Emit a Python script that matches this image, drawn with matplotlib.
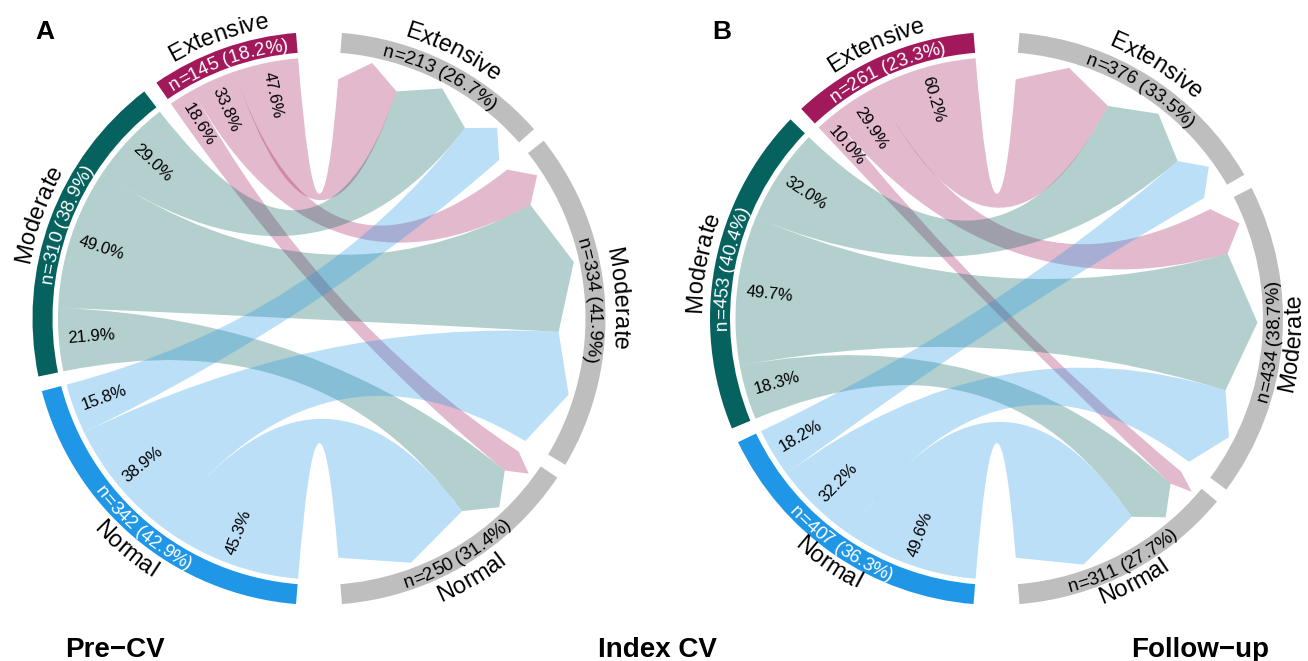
import numpy as np
import matplotlib
matplotlib.use("Agg")
import matplotlib.pyplot as plt
from matplotlib.patches import Wedge, PathPatch
from matplotlib.path import Path
from matplotlib import font_manager as fm
from matplotlib.ft2font import FT2Font

# ---------------------------------------------------------------- data
categories = ["Extensive", "Moderate", "Normal"]

# patient counts moving between states (rows: earlier state, cols: later state)
pre_to_index = [[69, 49, 27],
                [90, 152, 68],
                [54, 133, 155]]
index_to_follow = [[157, 78, 26],
                   [145, 225, 83],
                   [74, 131, 202]]

stage_titles = ["Pre\u2212CV", "Index CV", "Follow\u2212up"]
panel_tags = ["A", "B"]

state_colors = ["#A1195B", "#05625F", "#2097E6"]
later_color = "#BEBEBE"

# ---------------------------------------------------------------- layout
W, H, DPI = 1308, 661, 100
FONT = "Liberation Sans"
R_OUT = 286.5        # outer radius of the sector ring
RING_W = 20.0        # ring thickness
R_LINK = 261.0       # radius where ribbons start
R_HEAD = 240.0       # radius of arrow-head shoulders
R_PCT = 252.0        # start radius of percentage labels
BIG_GAP = 9.2        # gap (deg) between the two groups
SMALL_GAP = 3.0      # gap (deg) between sectors in a group
LINK_ALPHA = 0.3

plt.rcParams["font.family"] = [FONT, "DejaVu Sans"]

_ft = FT2Font(fm.findfont(fm.FontProperties(family=FONT)))


def advance_px(ch, size_pt):
    _ft.set_size(size_pt, DPI)
    return _ft.load_char(ord(ch)).linearHoriAdvance / 65536


def polar(cx, cy, r, ang):
    a = np.radians(ang)
    return (cx + r * np.cos(a), cy + r * np.sin(a))


def arc_text(ax, s, cx, cy, r_base, ang_mid, size, color, outward):
    """Write a string along a circle, character by character."""
    advs = [advance_px(c, size) for c in s]
    x = -sum(advs) / 2
    for c, a in zip(s, advs):
        xc = x + a / 2
        x += a
        if c == " ":
            continue
        if outward:
            ang = ang_mid - np.degrees(xc / r_base)
            rot = ang - 90
        else:
            ang = ang_mid + np.degrees(xc / r_base)
            rot = ang + 90
        px, py = polar(cx, cy, r_base, ang)
        ax.text(px, py, c, rotation=rot, rotation_mode="anchor",
                ha="center", va="baseline", fontsize=size, color=color)


def label_outward(ang_mid):
    a = ang_mid % 360
    return a < 180


def link_path(cx, cy, la0, la1, rb0, rb1):
    verts, codes = [], []
    for k, a in enumerate(np.linspace(la0, la1, 60)):
        verts.append(polar(cx, cy, R_LINK, a))
        codes.append(Path.MOVETO if k == 0 else Path.LINETO)
    verts += [(cx, cy), polar(cx, cy, R_HEAD, rb1)]
    codes += [Path.CURVE3, Path.CURVE3]
    verts.append(polar(cx, cy, R_LINK, (rb0 + rb1) / 2))
    codes.append(Path.LINETO)
    verts.append(polar(cx, cy, R_HEAD, rb0))
    codes.append(Path.LINETO)
    verts += [(cx, cy), polar(cx, cy, R_LINK, la0)]
    codes += [Path.CURVE3, Path.CURVE3]
    verts.append(verts[0])
    codes.append(Path.CLOSEPOLY)
    return Path(verts, codes)


def chord_panel(ax, cx, cy, counts):
    m = np.asarray(counts, dtype=float)
    left_n = m.sum(axis=1)
    right_n = m.sum(axis=0)
    total = m.sum()
    # both halves of the circle hold the same total
    unit = (360 - 2 * BIG_GAP - 4 * SMALL_GAP) / (2 * total)

    # sector extents
    left_sec, start = [], 90 + BIG_GAP / 2
    for n in left_n:
        left_sec.append((start, start + n * unit))
        start += n * unit + SMALL_GAP
    right_sec, start = [], 90 - BIG_GAP / 2
    for n in right_n:
        right_sec.append((start, start - n * unit))
        start -= n * unit + SMALL_GAP

    # ribbon slots on each sector
    left_slot = {}
    for i, (a0, _) in enumerate(left_sec):
        pos = a0
        for j in range(3):
            left_slot[i, j] = (pos, pos + m[i, j] * unit)
            pos += m[i, j] * unit
    right_slot = {}
    for j, (b0, _) in enumerate(right_sec):
        pos = b0
        for i in range(3):
            right_slot[i, j] = (pos, pos - m[i, j] * unit)
            pos -= m[i, j] * unit

    # ribbons
    for i in range(3):
        for j in range(3):
            la0, la1 = left_slot[i, j]
            rb0, rb1 = right_slot[i, j]
            ax.add_patch(PathPatch(link_path(cx, cy, la0, la1, rb0, rb1),
                                   facecolor=state_colors[i], alpha=LINK_ALPHA,
                                   edgecolor="none", lw=0, zorder=2))
            mid = (la0 + la1) / 2
            px, py = polar(cx, cy, R_PCT, mid)
            ax.text(px, py, f"{100 * m[i, j] / left_n[i]:.1f}%",
                    rotation=mid + 180 - 360, rotation_mode="anchor",
                    ha="left", va="center", fontsize=12, color="black", zorder=5)

    # sector ring with labels
    r_mid = R_OUT - RING_W / 2
    # names written with their tops inward sit further out; keep them inside the canvas
    r_name_in = min(R_OUT + 22, W - cx - 7)
    for side, secs, totals in (("left", left_sec, left_n), ("right", right_sec, right_n)):
        for k, (s0, s1) in enumerate(secs):
            lo, hi = min(s0, s1), max(s0, s1)
            col = state_colors[k] if side == "left" else later_color
            txt_col = "white" if side == "left" else "black"
            ax.add_patch(Wedge((cx, cy), R_OUT, lo, hi, width=RING_W,
                               facecolor=col, edgecolor="none", zorder=3))
            amid = (lo + hi) / 2
            outward = label_outward(amid)
            cnt = f"n={int(totals[k])} ({100 * totals[k] / total:.1f}%)"
            if outward:
                arc_text(ax, cnt, cx, cy, r_mid - 6.7, amid, 13.5, txt_col, True)
                arc_text(ax, categories[k], cx, cy, R_OUT + 8.5, amid, 17, "black", True)
            else:
                arc_text(ax, cnt, cx, cy, r_mid + 6.7, amid, 13.5, txt_col, False)
                arc_text(ax, categories[k], cx, cy, r_name_in, amid, 17, "black", False)


fig = plt.figure(figsize=(W / DPI, H / DPI), dpi=DPI)
ax = fig.add_axes([0, 0, 1, 1])
ax.set_xlim(0, W)
ax.set_ylim(0, H)
ax.axis("off")

centers = [(319.0, 342.5), (996.5, 342.5)]
for (cx, cy), counts, tag in zip(centers, [pre_to_index, index_to_follow], panel_tags):
    chord_panel(ax, cx, cy, counts)
    ax.text(cx - 284, H - 39, tag, fontsize=19, fontweight="bold",
            ha="left", va="baseline")

title_x = [centers[0][0] - 204, (centers[0][0] + centers[1][0]) / 2, centers[1][0] + 204]
for x, t in zip(title_x, stage_titles):
    ax.text(x, 4, t, fontsize=20, fontweight="bold", ha="center", va="baseline")

fig.savefig("out.png", dpi=DPI, facecolor="white")
